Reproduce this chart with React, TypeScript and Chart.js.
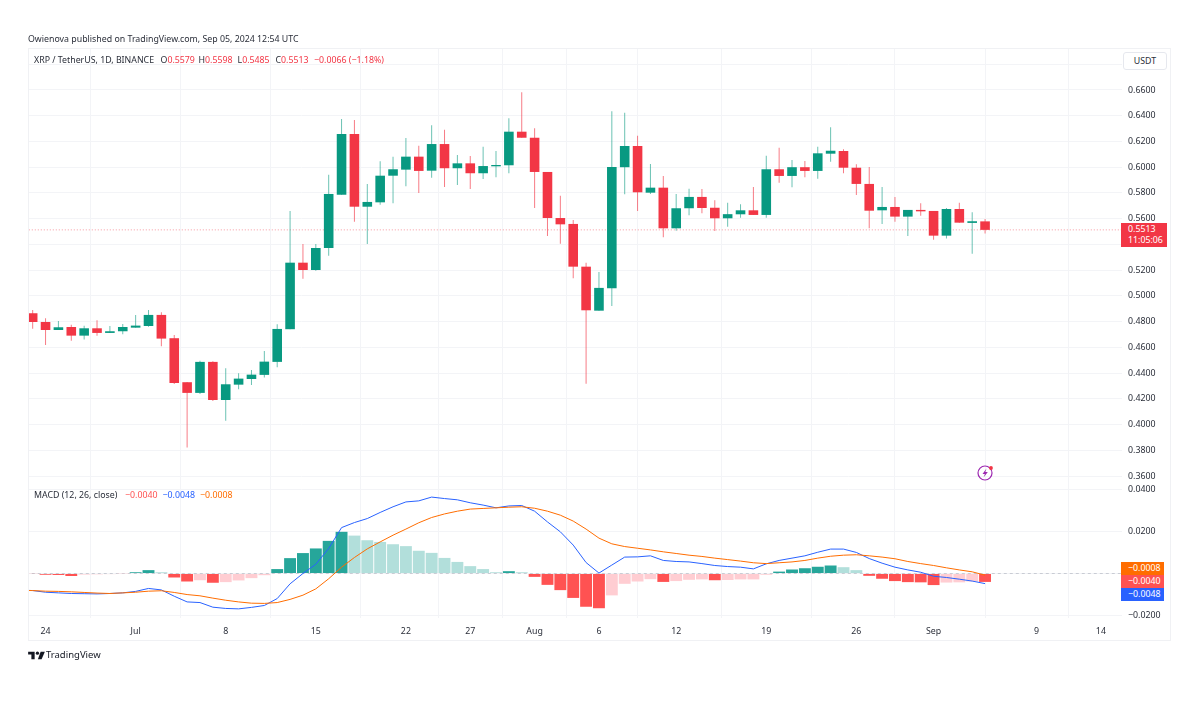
import React, { useEffect, useRef } from "react";
import { Chart, registerables } from "chart.js";

Chart.register(...registerables);

const opens = [
  0.4865, 0.4797, 0.4735, 0.4758, 0.4691, 0.4748, 0.4712, 0.4725, 0.4753, 0.4766,
  0.4852, 0.4671, 0.4329, 0.4246, 0.4487, 0.4191, 0.431, 0.4354, 0.4386, 0.4487,
  0.4741, 0.5258, 0.5201, 0.5372, 0.5786, 0.6258, 0.5693, 0.5727, 0.5934, 0.5981,
  0.6082, 0.5973, 0.618, 0.5992, 0.603, 0.5953, 0.6007, 0.6015, 0.6276, 0.6229,
  0.5963, 0.5605, 0.5559, 0.5227, 0.4885, 0.5059, 0.6, 0.6165, 0.5802, 0.5841,
  0.5525, 0.5681, 0.5769, 0.5685, 0.5603, 0.5634, 0.5665, 0.5629, 0.5984, 0.5932,
  0.6, 0.5971, 0.6105, 0.6126, 0.5996, 0.587, 0.5665, 0.5691, 0.5616, 0.5668,
  0.566, 0.5468, 0.5675, 0.5567, 0.5579,
];
const highs = [
  0.489, 0.4826, 0.4805, 0.4776, 0.4768, 0.481, 0.4766, 0.4782, 0.4852, 0.4891,
  0.4873, 0.4696, 0.4331, 0.4495, 0.4491, 0.4438, 0.4399, 0.4424, 0.4572, 0.4779,
  0.566, 0.5403, 0.5403, 0.5942, 0.6375, 0.6367, 0.587, 0.6046, 0.6082, 0.6227,
  0.6167, 0.6326, 0.6292, 0.6095, 0.6087, 0.6159, 0.6126, 0.638, 0.6582, 0.6302,
  0.5963, 0.5779, 0.559, 0.5258, 0.5186, 0.6434, 0.6424, 0.6245, 0.6025, 0.5932,
  0.5792, 0.5833, 0.5831, 0.5743, 0.5724, 0.5712, 0.5846, 0.6089, 0.6152, 0.6056,
  0.6048, 0.6159, 0.631, 0.6139, 0.6023, 0.6002, 0.5846, 0.5769, 0.5668, 0.572,
  0.566, 0.5683, 0.5724, 0.565, 0.5598,
];
const lows = [
  0.4745, 0.4619, 0.4735, 0.4652, 0.466, 0.4691, 0.4712, 0.4702, 0.4753, 0.4761,
  0.4608, 0.4315, 0.3821, 0.4238, 0.4183, 0.403, 0.4274, 0.4308, 0.4365, 0.4445,
  0.4741, 0.5134, 0.5196, 0.5312, 0.5786, 0.5577, 0.5403, 0.5709, 0.572, 0.5852,
  0.58, 0.5919, 0.5846, 0.5862, 0.5831, 0.5908, 0.5922, 0.5953, 0.6229, 0.5683,
  0.5466, 0.5406, 0.5137, 0.4318, 0.4885, 0.4922, 0.579, 0.566, 0.5792, 0.5455,
  0.5507, 0.5626, 0.5642, 0.5504, 0.5538, 0.5608, 0.5629, 0.5608, 0.588, 0.5844,
  0.5922, 0.5911, 0.6043, 0.5953, 0.5784, 0.5525, 0.5559, 0.5577, 0.5466, 0.5623,
  0.5437, 0.5445, 0.5569, 0.5328, 0.5485,
];
const closes = [
  0.4797, 0.4735, 0.4756, 0.4691, 0.4748, 0.4712, 0.4725, 0.4758, 0.4769, 0.4852,
  0.4668, 0.4323, 0.4246, 0.4487, 0.4191, 0.4313, 0.4357, 0.4388, 0.4489, 0.4743,
  0.5258, 0.5201, 0.5372, 0.5792, 0.6258, 0.5693, 0.573, 0.5934, 0.5984, 0.6082,
  0.5971, 0.618, 0.5992, 0.603, 0.5953, 0.6009, 0.6017, 0.6276, 0.6229, 0.5963,
  0.5605, 0.5556, 0.5227, 0.4888, 0.5062, 0.6002, 0.6165, 0.5805, 0.5841, 0.5525,
  0.5681, 0.5769, 0.5683, 0.5603, 0.5635, 0.5665, 0.5629, 0.5984, 0.5932, 0.6,
  0.5971, 0.6108, 0.6128, 0.5996, 0.587, 0.5662, 0.5691, 0.5616, 0.5668, 0.5657,
  0.5468, 0.5675, 0.5569, 0.558, 0.5513,
];
const histogram = [
  -0.0002, -0.0006, -0.0007, -0.0012, -0.0005, -0.0004, -0.0003, -0.0001, 0.0006, 0.0016,
  0.0006, -0.0019, -0.0038, -0.0032, -0.0044, -0.0041, -0.0033, -0.0022, -0.0008, 0.0021,
  0.0073, 0.0097, 0.0119, 0.0155, 0.0198, 0.018, 0.0158, 0.015, 0.0139, 0.013,
  0.0108, 0.0098, 0.0074, 0.0055, 0.0035, 0.0021, 0.0006, 0.0011, 0.0006, -0.0016,
  -0.0054, -0.0079, -0.0116, -0.0158, -0.0165, -0.0104, -0.0049, -0.0038, -0.0027, -0.004,
  -0.0036, -0.003, -0.0028, -0.0032, -0.0031, -0.0028, -0.0028, -0.0006, 0.0009, 0.0019,
  0.0025, 0.0032, 0.0038, 0.003, 0.0016, -0.0011, -0.0025, -0.0036, -0.0041, -0.0042,
  -0.0055, -0.0043, -0.0042, -0.0038, -0.004,
];
const macdBefore = -0.0079;
const macdLine = [
  -0.0081, -0.0089, -0.0092, -0.0095, -0.0096, -0.0097, -0.0095, -0.0092, -0.0085, -0.0071,
  -0.0078, -0.0108, -0.0135, -0.0138, -0.016, -0.0166, -0.0168, -0.0161, -0.0152, -0.0119,
  -0.0049, 0, 0.0044, 0.0119, 0.0218, 0.0242, 0.0261, 0.029, 0.0317, 0.034,
  0.0345, 0.0363, 0.0356, 0.035, 0.0336, 0.0325, 0.0312, 0.0321, 0.0323, 0.0296,
  0.0245, 0.0198, 0.0135, 0.0052, 0.0002, 0.004, 0.0078, 0.0079, 0.0084, 0.0062,
  0.0057, 0.0055, 0.0047, 0.0038, 0.0033, 0.003, 0.0022, 0.0046, 0.0062, 0.0073,
  0.0084, 0.0101, 0.0116, 0.0116, 0.01, 0.0071, 0.0049, 0.003, 0.0017, 0.0006,
  -0.0013, -0.0019, -0.0027, -0.0036, -0.0048,
];
const signalBefore = -0.008;
const signalLine = [
  -0.0081, -0.0084, -0.0085, -0.0087, -0.009, -0.0093, -0.0095, -0.0092, -0.0089, -0.0084,
  -0.0082, -0.009, -0.01, -0.0106, -0.0117, -0.0127, -0.0135, -0.0141, -0.0142, -0.0138,
  -0.0123, -0.0103, -0.0073, -0.0025, 0.003, 0.0076, 0.0117, 0.015, 0.0182, 0.0211,
  0.0241, 0.0266, 0.0283, 0.0296, 0.0306, 0.0309, 0.0312, 0.0315, 0.0317, 0.031,
  0.0296, 0.0277, 0.0249, 0.0211, 0.0168, 0.0141, 0.0128, 0.012, 0.0112, 0.0103,
  0.0095, 0.0087, 0.0081, 0.0073, 0.0066, 0.0059, 0.0051, 0.0047, 0.0051, 0.0055,
  0.0062, 0.0073, 0.0082, 0.0087, 0.0089, 0.0084, 0.0078, 0.007, 0.0057, 0.0047,
  0.0038, 0.0027, 0.0017, 0.0008, -0.0008,
];
const dateTickIndex = [1, 8, 15, 22, 29, 34, 39, 44, 50, 57, 64, 70, 78, 83];
const dateTickLabels = ["24", "Jul", "8", "15", "22", "27", "Aug", "6", "12", "19", "26", "Sep", "9", "14"];
const priceTicks = [0.68, 0.66, 0.64, 0.62, 0.6, 0.58, 0.56, 0.54, 0.52, 0.5, 0.48, 0.46, 0.44, 0.42, 0.4, 0.38, 0.36];
const priceTicksUnlabelled = [0.68, 0.54];
const macdTicks = [0.04, 0.02, 0, -0.02];
const macdTicksUnlabelled = [0];
const lastPrice = 0.5513;

const FONT = '"Noto Sans", sans-serif';
const FS = 8.8;
const TEXT = "#2a2e39";
const GREEN = "#089981";
const RED = "#f23645";
const GRID = "#f3f4f7";

const isUp = (i: number) => closes[i] >= opens[i];
const xs = opens.map((_, i) => i);
const minus = (s: string) => s.replace("-", "\u2212");

function histColor(i: number) {
  const v = histogram[i];
  const prev = i > 0 ? histogram[i - 1] : 0;
  if (v >= 0) return v >= prev ? "#26a69a" : "#b2dfdb";
  return v < prev ? "#ff5252" : "#ffcdd2";
}

function Txt(props: { x: number; y: number; c?: string; s?: number; children: React.ReactNode }) {
  return (
    <span
      style={{
        position: "absolute",
        left: props.x,
        top: props.y,
        color: props.c || TEXT,
        fontSize: props.s || FS,
        lineHeight: "12px",
        whiteSpace: "nowrap",
        fontFamily: FONT,
      }}
    >
      {props.children}
    </span>
  );
}

function Tag(props: { y: number; h: number; bg: string; children: React.ReactNode }) {
  return (
    <div
      style={{
        position: "absolute",
        left: 1121,
        top: props.y,
        width: 43,
        height: props.h,
        background: props.bg,
        color: "#fff",
        fontFamily: FONT,
        fontSize: FS,
        lineHeight: "13px",
        paddingLeft: 7,
        boxSizing: "border-box",
      }}
    >
      {props.children}
    </div>
  );
}

export default function App() {
  const ref = useRef<HTMLCanvasElement>(null);

  useEffect(() => {
    const chart = new Chart(ref.current as HTMLCanvasElement, {
      type: "bar",
      data: {
        datasets: [
          {
            type: "line",
            yAxisID: "y",
            order: 9,
            data: [
              { x: -1, y: lastPrice },
              { x: 90, y: lastPrice },
            ],
            borderColor: "rgba(242,54,69,0.5)",
            borderWidth: 1,
            borderDash: [1, 2],
            pointRadius: 0,
          },
          {
            type: "bar",
            yAxisID: "y",
            order: 8,
            barThickness: 1,
            grouped: false,
            inflateAmount: 0,
            data: xs.map((i) => ({ x: i, y: [lows[i], highs[i]] })),
            backgroundColor: xs.map((i) => (isUp(i) ? "rgba(8,153,129,0.6)" : "rgba(242,54,69,0.65)")),
          },
          {
            type: "bar",
            yAxisID: "y",
            order: 7,
            barThickness: 9.6,
            grouped: false,
            inflateAmount: 0,
            data: xs.map((i) => ({ x: i, y: [opens[i], closes[i]] })),
            backgroundColor: xs.map((i) => (isUp(i) ? GREEN : RED)),
          },
          {
            type: "line",
            yAxisID: "yM",
            order: 6,
            data: [
              { x: -1, y: 0 },
              { x: 90, y: 0 },
            ],
            borderColor: "#c9ccd4",
            borderWidth: 1,
            borderDash: [3, 3],
            pointRadius: 0,
          },
          {
            type: "bar",
            yAxisID: "yM",
            order: 5,
            barThickness: 11.9,
            grouped: false,
            inflateAmount: 0,
            data: xs.map((i) => ({ x: i, y: histogram[i] })),
            backgroundColor: xs.map(histColor),
          },
          {
            type: "line",
            yAxisID: "yM",
            order: 2,
            data: [{ x: -1, y: macdBefore }, ...xs.map((i) => ({ x: i, y: macdLine[i] }))],
            borderColor: "#2962ff",
            borderWidth: 1,
            pointRadius: 0,
            tension: 0,
          },
          {
            type: "line",
            yAxisID: "yM",
            order: 1,
            data: [{ x: -1, y: signalBefore }, ...xs.map((i) => ({ x: i, y: signalLine[i] }))],
            borderColor: "#ff6d00",
            borderWidth: 1,
            pointRadius: 0,
            tension: 0,
          },
        ],
      } as any,
      options: {
        responsive: false,
        animation: false,
        layout: { padding: { left: 28, top: 48, right: 0, bottom: 0 } },
        plugins: { legend: { display: false }, tooltip: { enabled: false } },
        scales: {
          x: {
            type: "linear",
            offset: false,
            min: -0.363,
            max: 84.64,
            border: { display: false },
            grid: { color: GRID, drawTicks: false },
            afterBuildTicks: (s: any) => {
              s.ticks = dateTickIndex.map((value) => ({ value }));
            },
            afterFit: (s: any) => {
              s.height = 110;
            },
            ticks: {
              autoSkip: false,
              maxRotation: 0,
              padding: 8,
              color: TEXT,
              font: { family: FONT, size: FS },
              callback: (v: any) => dateTickLabels[dateTickIndex.indexOf(v)],
            },
          },
          y: {
            type: "linear",
            position: "right",
            stack: "panes",
            stackWeight: 437,
            min: 0.35302,
            max: 0.69264,
            border: { display: false },
            grid: { color: GRID, drawTicks: false },
            afterBuildTicks: (s: any) => {
              s.ticks = priceTicks.map((value) => ({ value }));
            },
            afterFit: (s: any) => {
              s.width = 78;
            },
            ticks: {
              autoSkip: false,
              padding: 6,
              color: TEXT,
              font: { family: FONT, size: FS },
              callback: (v: any) => (priceTicksUnlabelled.includes(v) ? "" : v.toFixed(4)),
            },
          },
          yM: {
            type: "linear",
            position: "right",
            stack: "panes",
            stackWeight: 133,
            min: -0.02114,
            max: 0.04204,
            border: { display: false },
            grid: { color: GRID, drawTicks: false },
            afterBuildTicks: (s: any) => {
              s.ticks = macdTicks.map((value) => ({ value }));
            },
            afterFit: (s: any) => {
              s.width = 78;
            },
            ticks: {
              autoSkip: false,
              padding: 6,
              color: TEXT,
              font: { family: FONT, size: FS },
              callback: (v: any) => (macdTicksUnlabelled.includes(v) ? "" : minus(v.toFixed(4))),
            },
          },
        },
      } as any,
    });
    return () => chart.destroy();
  }, []);

  return (
    <div style={{ position: "absolute", left: 0, top: 0, width: 1200, height: 728, background: "#fff", overflow: "hidden" }}>
      <canvas ref={ref} width={1200} height={728} style={{ position: "absolute", left: 0, top: 0, display: "block" }} />
      <div style={{ position: "absolute", left: 28, top: 48, width: 1143, height: 593, border: "1px solid #f0f1f4", boxSizing: "border-box", pointerEvents: "none" }} />

      <Txt x={28} y={33}>Owienova published on TradingView.com, Sep 05, 2024 12:54 UTC</Txt>

      <Txt x={34} y={54}>XRP / TetherUS, 1D, BINANCE</Txt>
      <Txt x={160.5} y={54}>O<span style={{ color: RED }}>0.5579</span></Txt>
      <Txt x={198.5} y={54}>H<span style={{ color: RED }}>0.5598</span></Txt>
      <Txt x={237.5} y={54}>L<span style={{ color: RED }}>0.5485</span></Txt>
      <Txt x={275.5} y={54}>C<span style={{ color: RED }}>0.5513</span></Txt>
      <Txt x={314} y={54} c={RED}>{"\u22120.0066 (\u22121.18%)"}</Txt>

      <Txt x={34} y={489}>MACD (12, 26, close)</Txt>
      <Txt x={125} y={489} c="#ff5252">{"\u22120.0040"}</Txt>
      <Txt x={162.5} y={489} c="#2962ff">{"\u22120.0048"}</Txt>
      <Txt x={200} y={489} c="#ff6d00">{"\u22120.0008"}</Txt>

      <div style={{ position: "absolute", left: 1123, top: 52, width: 44, height: 18, border: "1px solid #e6e8ee", borderRadius: 3, boxSizing: "border-box", background: "#fff", color: TEXT, fontFamily: FONT, fontSize: FS, lineHeight: "16px", textAlign: "center" }}>USDT</div>

      <div style={{ position: "absolute", left: 1121, top: 223, width: 46, height: 24, background: RED, color: "#fff", fontFamily: FONT, fontSize: FS, lineHeight: "11px", paddingLeft: 7, paddingTop: 1, boxSizing: "border-box" }}>
        0.5513<br />11:05:06
      </div>

      <Tag y={562} h={13} bg="#ff6d00">{"\u22120.0008"}</Tag>
      <Tag y={575} h={13} bg="#ff5252">{"\u22120.0040"}</Tag>
      <Tag y={588} h={13} bg="#2962ff">{"\u22120.0048"}</Tag>

      <svg width="18" height="18" viewBox="0 0 18 18" style={{ position: "absolute", left: 975.5, top: 463.5 }}>
        <circle cx="9" cy="9" r="7" fill="none" stroke="#9c27b0" strokeWidth="1.2" />
        <path d="M10.5 4.5 6.5 10h2.4l-1.4 3.5L11.8 8H9.3z" fill="#9c27b0" />
        <circle cx="15" cy="4" r="1.9" fill="#f23645" />
      </svg>

      <svg width="17" height="13" viewBox="0 0 36 28" style={{ position: "absolute", left: 28, top: 649 }}>
        <path d="M14 6H0v6h7v10h7V6Z" fill="#131722" />
        <circle cx="20" cy="9" r="3.5" fill="#131722" />
        <path d="M29 22H21l6-16h9l-7 16Z" fill="#131722" />
      </svg>
      <Txt x={46} y={649} s={9.5} c="#131722">TradingView</Txt>
    </div>
  );
}
